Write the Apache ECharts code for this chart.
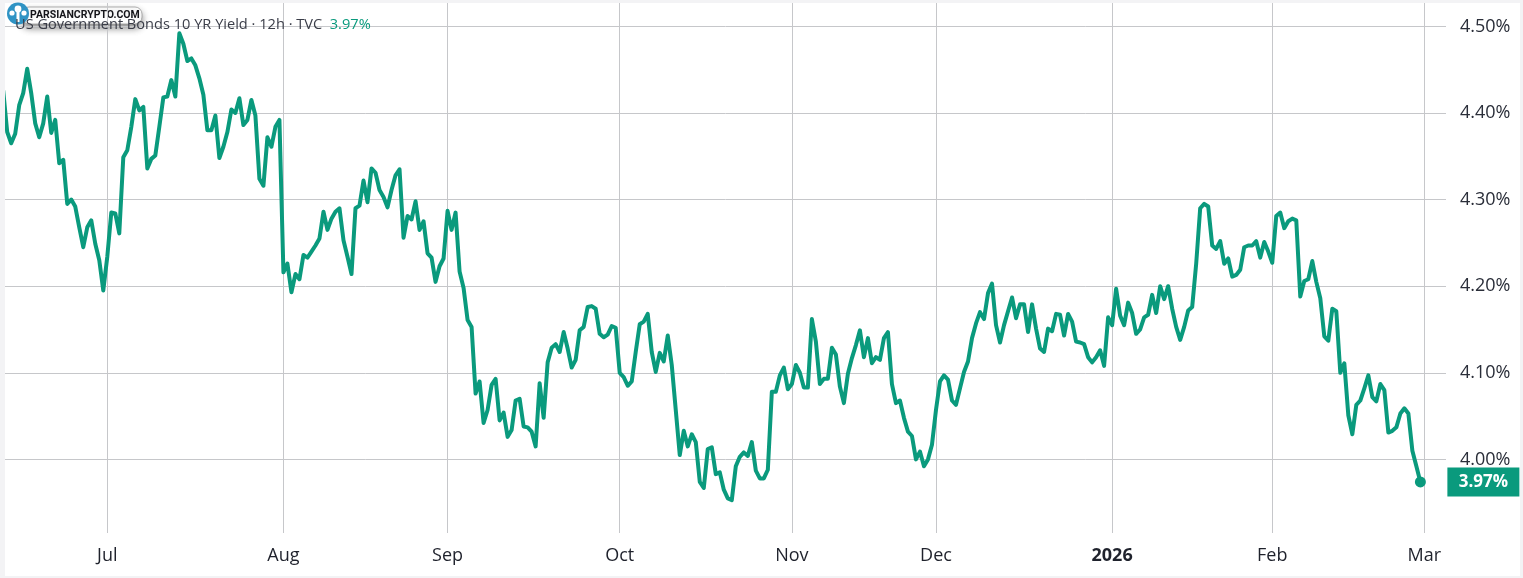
<!DOCTYPE html>
<html>
<head>
<meta charset="utf-8">
<title>US Government Bonds 10 YR Yield</title>
<script src="https://cdn.jsdelivr.net/npm/echarts@6/dist/echarts.min.js"></script>
<style>
    html, body { margin: 0; padding: 0; background: #f3f3f5; }
    #main { width: 1523px; height: 578px; }
</style>
</head>
<body>
<div id="main"></div>
<script>
// 12h closes, one list per month so the month gridlines stay on the right bar
var yieldJun = [4.426, 4.378, 4.365, 4.376, 4.409, 4.423, 4.451, 4.423, 4.388, 4.372, 4.388, 4.419, 4.377, 4.392, 4.342, 4.346, 4.295, 4.300, 4.292, 4.268, 4.245, 4.268, 4.276, 4.249, 4.230, 4.195];
var yieldJul = [4.234, 4.285, 4.284, 4.261, 4.349, 4.357, 4.384, 4.416, 4.403, 4.407, 4.336, 4.347, 4.351, 4.384, 4.418, 4.419, 4.438, 4.419, 4.492, 4.480, 4.460, 4.463, 4.455, 4.440, 4.421, 4.380, 4.380, 4.397, 4.348, 4.361, 4.378, 4.404, 4.400, 4.417, 4.386, 4.392, 4.415, 4.397, 4.324, 4.316, 4.372, 4.361, 4.384, 4.392];
var yieldAug = [4.216, 4.226, 4.193, 4.214, 4.208, 4.236, 4.233, 4.240, 4.247, 4.255, 4.286, 4.265, 4.278, 4.286, 4.290, 4.253, 4.234, 4.214, 4.290, 4.293, 4.322, 4.297, 4.336, 4.331, 4.311, 4.303, 4.291, 4.311, 4.328, 4.335, 4.256, 4.281, 4.277, 4.298, 4.265, 4.275, 4.238, 4.233, 4.205, 4.223, 4.232];
var yieldSep = [4.287, 4.265, 4.285, 4.217, 4.198, 4.161, 4.153, 4.076, 4.090, 4.042, 4.057, 4.086, 4.093, 4.045, 4.054, 4.026, 4.034, 4.068, 4.070, 4.038, 4.037, 4.032, 4.015, 4.088, 4.048, 4.112, 4.129, 4.133, 4.124, 4.147, 4.128, 4.106, 4.115, 4.149, 4.153, 4.176, 4.177, 4.174, 4.145, 4.141, 4.144, 4.154, 4.152];
var yieldOct = [4.100, 4.095, 4.085, 4.090, 4.124, 4.156, 4.159, 4.168, 4.124, 4.101, 4.123, 4.113, 4.143, 4.109, 4.057, 4.005, 4.033, 4.015, 4.029, 4.020, 3.974, 3.967, 4.012, 4.014, 3.983, 3.985, 3.965, 3.955, 3.953, 3.992, 4.003, 4.008, 4.004, 4.020, 3.987, 3.978, 3.978, 3.988, 4.078, 4.078, 4.097, 4.106, 4.081];
var yieldNov = [4.087, 4.109, 4.100, 4.083, 4.083, 4.162, 4.136, 4.087, 4.093, 4.093, 4.129, 4.121, 4.084, 4.065, 4.099, 4.117, 4.132, 4.149, 4.118, 4.140, 4.111, 4.118, 4.115, 4.140, 4.147, 4.087, 4.065, 4.068, 4.048, 4.032, 4.027, 4.000, 4.009, 3.992, 4.000, 4.017];
var yieldDec = [4.057, 4.090, 4.097, 4.092, 4.068, 4.063, 4.082, 4.101, 4.113, 4.140, 4.157, 4.170, 4.162, 4.192, 4.203, 4.155, 4.135, 4.155, 4.171, 4.187, 4.163, 4.179, 4.179, 4.147, 4.179, 4.151, 4.128, 4.124, 4.151, 4.148, 4.168, 4.167, 4.143, 4.168, 4.159, 4.136, 4.135, 4.133, 4.118, 4.112, 4.118, 4.126, 4.108, 4.164];
var yieldJan = [4.155, 4.197, 4.166, 4.155, 4.181, 4.169, 4.145, 4.150, 4.164, 4.167, 4.190, 4.169, 4.200, 4.185, 4.200, 4.174, 4.153, 4.138, 4.153, 4.172, 4.176, 4.226, 4.290, 4.295, 4.292, 4.247, 4.243, 4.252, 4.226, 4.232, 4.211, 4.213, 4.219, 4.245, 4.247, 4.247, 4.252, 4.233, 4.251, 4.240];
var yieldFeb = [4.227, 4.281, 4.285, 4.267, 4.275, 4.278, 4.276, 4.188, 4.206, 4.208, 4.229, 4.205, 4.186, 4.142, 4.137, 4.174, 4.171, 4.100, 4.111, 4.051, 4.029, 4.063, 4.068, 4.082, 4.097, 4.072, 4.067, 4.087, 4.080, 4.031, 4.033, 4.037, 4.053, 4.059, 4.053, 4.010, 3.992, 3.974];

var monthLabels = ['Jul', 'Aug', 'Sep', 'Oct', 'Nov', 'Dec', '2026', 'Feb', 'Mar'];
var priceTicks = [4.0, 4.1, 4.2, 4.3, 4.4, 4.5];
var lastPrice = 3.97;

var months = [yieldJul, yieldAug, yieldSep, yieldOct, yieldNov, yieldDec, yieldJan, yieldFeb];
var bars = yieldJun.slice();
var monthBars = [bars.length];
months.forEach(function (m) {
    bars = bars.concat(m);
    monthBars.push(bars.length);
});
var seriesData = bars.map(function (v, i) { return [i, v]; });
var lastBar = seriesData[seriesData.length - 1];

var green = '#0a9a7d';
var fontName = '"Open Sans", sans-serif';

var myChart = echarts.init(document.getElementById('main'));
var option = {
    animation: false,
    backgroundColor: 'transparent',
    textStyle: { fontFamily: fontName },
    grid: { left: 5, right: 77, top: 3, bottom: 45, containLabel: false },
    title: {
        left: 10,
        top: 12,
        text: 'US Government Bonds 10 YR Yield · 12h · TVC  {p|3.97%}',
        textStyle: {
            fontFamily: fontName,
            fontSize: 14.6,
            fontWeight: 'normal',
            color: '#3a3d48',
            rich: { p: { fontFamily: fontName, fontSize: 14.6, color: green } }
        }
    },
    xAxis: {
        type: 'value',
        min: 0.45,
        max: 360.4,
        axisLine: { show: false },
        axisTick: { show: false, customValues: monthBars },
        splitLine: { show: true, lineStyle: { color: '#c6c7ca', width: 1 } },
        axisLabel: {
            customValues: monthBars,
            margin: 14,
            fontSize: 18,
            color: '#1f222c',
            formatter: function (v) {
                var s = monthLabels[monthBars.indexOf(v)];
                return s === '2026' ? '{y|2026}' : s;
            },
            rich: { y: { fontSize: 18, fontWeight: 'bold', color: '#1f222c', fontFamily: fontName } }
        }
    },
    yAxis: {
        type: 'value',
        position: 'right',
        min: 3.915,
        max: 4.527,
        axisLine: { show: false },
        axisTick: { show: false, customValues: priceTicks },
        splitLine: { show: true, lineStyle: { color: '#c6c7ca', width: 1 } },
        axisLabel: {
            customValues: priceTicks,
            margin: 14,
            fontSize: 18,
            color: '#2a2e39',
            formatter: function (v) { return v.toFixed(2) + '%'; }
        }
    },
    series: [{
        type: 'line',
        data: seriesData,
        showSymbol: false,
        smooth: false,
        lineStyle: { color: green, width: 4, join: 'round' },
        itemStyle: { color: green },
        z: 5,
        markPoint: {
            silent: true,
            animation: false,
            data: [{
                coord: lastBar,
                symbol: 'circle',
                symbolSize: 11,
                itemStyle: { color: green },
                label: { show: false }
            }, {
                coord: [lastBar[0], lastBar[1]],
                symbol: 'rect',
                symbolSize: [72, 29],
                symbolOffset: [63, 0],
                itemStyle: { color: green },
                value: lastPrice,
                label: {
                    show: true,
                    position: 'inside',
                    fontSize: 17,
                    fontWeight: 'bold',
                    fontFamily: fontName,
                    color: '#ffffff',
                    formatter: function () { return lastPrice.toFixed(2) + '%'; }
                }
            }]
        }
    }],
    graphic: [
        // white panel, the page behind it shows as a thin frame
        { type: 'rect', z: -10, silent: true, shape: { x: 5, y: 3, width: 1515, height: 573 }, style: { fill: '#ffffff' } },
        // line clip grows with the stroke, keep the left strip clean
        { type: 'rect', z: 50, silent: true, shape: { x: 0, y: 0, width: 5, height: 578 }, style: { fill: '#f3f3f5' } },
        // watermark badge top left
        {
            type: 'group', z: 100, silent: true, children: [
                { type: 'rect', shape: { x: 22, y: 7, width: 120, height: 17, r: 7 }, style: { fill: '#ffffff', stroke: '#9a9a9a', lineWidth: 0.8, shadowBlur: 7, shadowColor: 'rgba(0,0,0,0.45)', shadowOffsetY: 4 } },
                { type: 'circle', shape: { cx: 18, cy: 13.5, r: 11 }, style: { fill: '#2f93c4' } },
                { type: 'rect', shape: { x: 16.5, y: 12, width: 3, height: 10 }, style: { fill: '#ffffff' } },
                { type: 'circle', shape: { cx: 18, cy: 9, r: 3.4 }, style: { fill: '#ffffff' } },
                { type: 'circle', shape: { cx: 12, cy: 13, r: 2.6 }, style: { fill: '#ffffff' } },
                { type: 'circle', shape: { cx: 24, cy: 13, r: 2.6 }, style: { fill: '#ffffff' } },
                { type: 'text', style: { x: 30, y: 15.5, text: 'PARSIANCRYPTO.COM', fontFamily: 'Roboto, sans-serif', fontSize: 10.5, fontWeight: 'bold', fill: '#15151a', verticalAlign: 'middle' } }
            ]
        }
    ]
};
myChart.setOption(option);
</script>
</body>
</html>
